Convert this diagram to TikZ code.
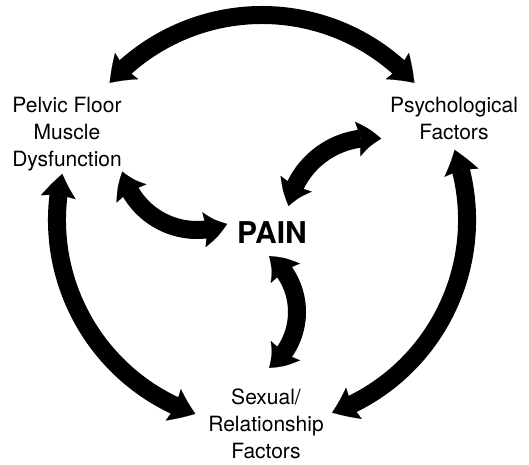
\documentclass[tikz,border=0pt]{standalone}
\usepackage{fontspec}
\setmainfont{TeX Gyre Heros}
\usetikzlibrary{arrows.meta,bending,calc}
\begin{document}
\begin{tikzpicture}[x=1pt,y=1pt,
  head/.tip={Stealth[length=24pt,width=35pt,inset=3pt,line width=0.1pt,bend]},
  loop/.style={line width=18pt,{head}-{head}},
  factor/.style={align=center,inner sep=0pt,font=\fontsize{21}{27}\selectfont},
  core/.style={inner sep=0pt,font=\fontsize{30}{34}\selectfont\bfseries},
]
\useasboundingbox (0,0) rectangle (529,464);

% labels
\node[factor] (pelvic) at (67,329.5) {Pelvic Floor\\Muscle\\Dysfunction};
\node[factor] (psych)  at (454,345) {Psychological\\Factors};
\node[factor] (sexual) at (266,40) {Sexual/\\Relationship\\Factors};
\node[core]   (pain)   at (272,231.5) {PAIN};

% centres of the curved arrows
\coordinate (ring) at (262,244);
\coordinate (cA) at (197,311);
\coordinate (cB) at (371,242);
\coordinate (cC) at (227,152);

% outer ring of arrows between the three factors
\coordinate (top1) at ($(ring)+(138:205)$);
\coordinate (lft1) at ($(ring)+(167:205)$);
\coordinate (rgt1) at ($(ring)+(290:205)$);
\draw[loop] (top1) arc[start angle=138,end angle=42,radius=205];
\draw[loop] (lft1) arc[start angle=167,end angle=251,radius=205];
\draw[loop] (rgt1) arc[start angle=290,end angle=380,radius=205];

% inner arrows linking each factor with the pain
\coordinate (inA) at ($(cA)+(194:77)$);
\coordinate (inB) at ($(cB)+(83:84)$);
\coordinate (inC) at ($(cC)+(53:70)$);
\draw[loop] (inA) arc[start angle=194,end angle=293,radius=77];
\draw[loop] (inB) arc[start angle=83,end angle=169,radius=84];
\draw[loop] (inC) arc[start angle=53,end angle=-53,radius=70];
\end{tikzpicture}
\end{document}
